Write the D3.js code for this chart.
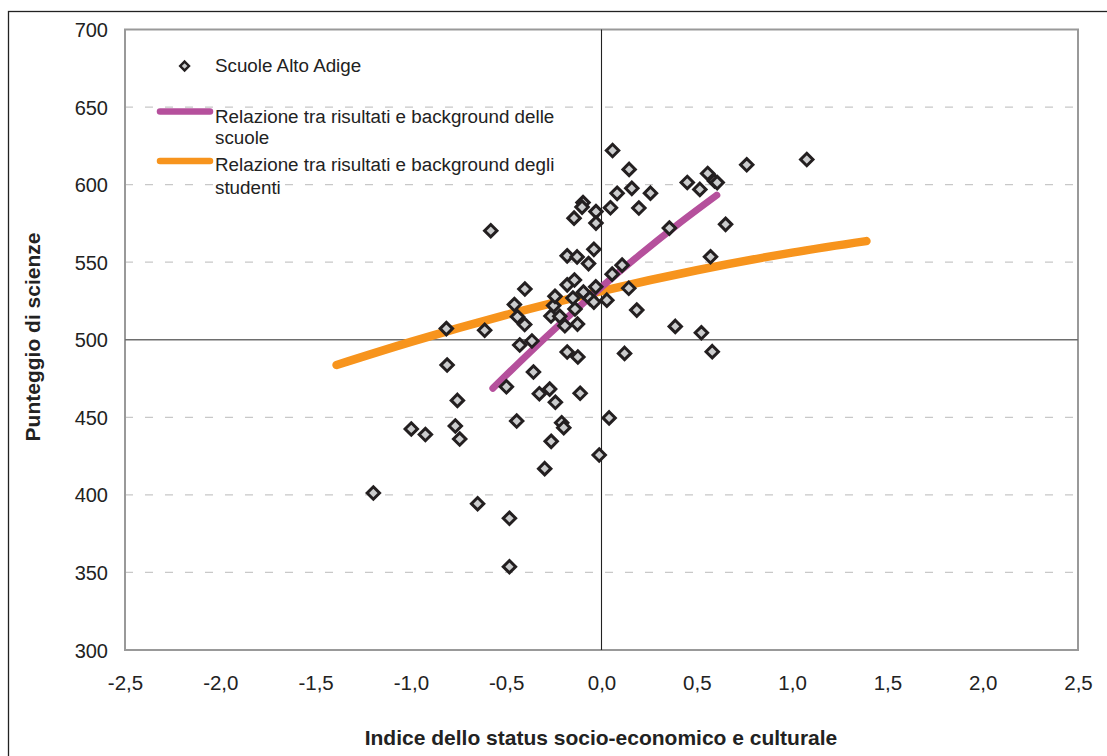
<!DOCTYPE html>
<html>
<head>
<meta charset="utf-8">
<script src="https://cdn.jsdelivr.net/npm/d3@7"></script>
<style>
  html, body { margin: 0; padding: 0; background: #fff; }
  svg { display: block; font-family: "Liberation Sans", Arial, sans-serif; }
</style>
</head>
<body>
<svg id="chart" width="1107" height="756"></svg>
<script>
// School-level scores: socio-economic index (ESCS) vs science score
const schoolEscs = [
  -1.197, -0.998, -0.924, -0.814, -0.810, -0.756, -0.767, -0.744, -0.650, -0.613,
  -0.581, -0.499, -0.483, -0.483, -0.457, -0.445, -0.441, -0.429, -0.402, -0.403,
  -0.365, -0.357, -0.326, -0.298, -0.272, -0.264, -0.265, -0.251, -0.244, -0.242,
  -0.219, -0.209, -0.198, -0.192, -0.180, -0.180, -0.180, -0.150, -0.144, -0.142,
  -0.139, -0.128, -0.126, -0.124, -0.112, -0.097, -0.102, -0.095, -0.068, -0.061,
  -0.040, -0.040, -0.029, -0.029, -0.030, -0.012, 0.028, 0.040, 0.047, 0.056,
  0.058, 0.082, 0.108, 0.121, 0.143, 0.145, 0.159, 0.185, 0.196, 0.257,
  0.356, 0.387, 0.450, 0.516, 0.524, 0.557, 0.593, 0.607, 0.572, 0.581,
  0.651, 0.762, 1.077
];
const schoolScience = [
  401.2, 442.5, 438.9, 507.2, 483.7, 460.9, 444.4, 436.0, 394.3, 506.1,
  570.3, 469.7, 384.9, 353.7, 522.7, 447.6, 514.8, 496.6, 532.7, 509.8,
  499.2, 479.2, 465.2, 416.9, 468.2, 434.5, 515.3, 522.0, 528.0, 459.7,
  515.1, 446.5, 443.3, 509.0, 554.1, 535.4, 492.1, 526.9, 578.4, 538.5,
  519.8, 553.4, 510.1, 488.9, 465.5, 588.4, 585.5, 530.7, 549.1, 526.7,
  558.3, 524.3, 582.6, 575.2, 534.1, 425.7, 525.5, 449.6, 585.1, 542.3,
  622.0, 594.4, 548.1, 491.2, 533.2, 609.8, 597.6, 519.1, 584.9, 594.5,
  572.0, 508.6, 601.4, 596.9, 504.5, 607.2, 602.4, 601.3, 553.5, 492.3,
  574.4, 612.8, 616.2
];

// Between-school relationship (gradient of school means)
const schoolLineX = [-0.57, -0.40, -0.20, 0.00, 0.20, 0.40, 0.605];
const schoolLineY = [468.7, 489.1, 512.1, 534.0, 554.7, 574.3, 593.2];

// Student-level relationship
const studentLineX = [-1.39, -1.00, -0.50, 0.00, 0.50, 1.00, 1.39];
const studentLineY = [483.7, 498.6, 516.0, 531.4, 544.8, 556.2, 563.6];

const xTicks = [-2.5, -2.0, -1.5, -1.0, -0.5, 0.0, 0.5, 1.0, 1.5, 2.0, 2.5];
const yTicks = [300, 350, 400, 450, 500, 550, 600, 650, 700];

const legendLabels = [
  ["Scuole Alto Adige"],
  ["Relazione tra risultati e background delle", "scuole"],
  ["Relazione tra risultati e background degli", "studenti"]
];
const xTitle = "Indice dello status socio-economico e culturale";
const yTitle = "Punteggio di scienze";

const COL_SCHOOL = "#b5509c";
const COL_STUDENT = "#f7941d";

const svg = d3.select("#chart");
const plotL = 125, plotR = 1078, plotT = 29.5, plotB = 650;

const x = d3.scaleLinear().domain([-2.5, 2.5]).range([plotL, plotR]);
const y = d3.scaleLinear().domain([300, 700]).range([plotB, plotT]);

// outer chart-area border
svg.append("rect")
  .attr("x", 8.5).attr("y", 11.5)
  .attr("width", 1120).attr("height", 800)
  .attr("fill", "none").attr("stroke", "#222").attr("stroke-width", 1.3);

// dashed horizontal gridlines
svg.append("g")
  .selectAll("line")
  .data(yTicks.filter(v => v !== 300 && v !== 700 && v !== 500))
  .join("line")
  .attr("x1", plotL).attr("x2", plotR)
  .attr("y1", d => y(d)).attr("y2", d => y(d))
  .attr("stroke", "#c8c8c8").attr("stroke-width", 1.2)
  .attr("stroke-dasharray", "8,12");

// plot frame
svg.append("rect")
  .attr("x", plotL).attr("y", plotT)
  .attr("width", plotR - plotL).attr("height", plotB - plotT)
  .attr("fill", "none").attr("stroke", "#999").attr("stroke-width", 2);

// cross lines at score 500 and index 0
svg.append("line")
  .attr("x1", plotL).attr("x2", plotR)
  .attr("y1", y(500)).attr("y2", y(500))
  .attr("stroke", "#6e6e6e").attr("stroke-width", 1.4);
svg.append("line")
  .attr("x1", x(0)).attr("x2", x(0))
  .attr("y1", plotT).attr("y2", plotB)
  .attr("stroke", "#222").attr("stroke-width", 1.1);

// axes (labels only, comma decimal)
const fmtX = d => d3.format(".1f")(d).replace(".", ",").replace("−", "-");
const xAxis = svg.append("g")
  .attr("transform", `translate(0,${plotB})`)
  .call(d3.axisBottom(x).tickValues(xTicks).tickFormat(fmtX).tickSize(0).tickPadding(0));
xAxis.select(".domain").remove();
xAxis.selectAll("text")
  .attr("dy", null).attr("y", 39.5)
  .attr("font-family", "Liberation Sans, Arial, sans-serif")
  .attr("font-size", 20.5).attr("fill", "#222");

const yAxis = svg.append("g")
  .attr("transform", `translate(${plotL},0)`)
  .call(d3.axisLeft(y).tickValues(yTicks).tickFormat(d3.format("d")).tickSize(0).tickPadding(0));
yAxis.select(".domain").remove();
yAxis.selectAll("text")
  .attr("x", -17).attr("dy", "0.35em")
  .attr("font-family", "Liberation Sans, Arial, sans-serif")
  .attr("font-size", 20).attr("fill", "#222");

// axis titles
svg.append("text")
  .attr("x", 601).attr("y", 745)
  .attr("text-anchor", "middle")
  .attr("font-size", 21).attr("font-weight", "bold").attr("fill", "#222")
  .text(xTitle);
svg.append("text")
  .attr("transform", `translate(40,337) rotate(-90)`)
  .attr("text-anchor", "middle")
  .attr("font-size", 21).attr("font-weight", "bold").attr("fill", "#222")
  .text(yTitle);

// relationship curves
const line = d3.line().x(d => x(d[0])).y(d => y(d[1])).curve(d3.curveMonotoneX);
svg.append("path")
  .datum(studentLineX.map((v, i) => [v, studentLineY[i]]))
  .attr("d", line)
  .attr("fill", "none").attr("stroke", COL_STUDENT)
  .attr("stroke-width", 8.5).attr("stroke-linecap", "round");

svg.append("path")
  .datum(schoolLineX.map((v, i) => [v, schoolLineY[i]]))
  .attr("d", line)
  .attr("fill", "none").attr("stroke", COL_SCHOOL)
  .attr("stroke-width", 7).attr("stroke-linecap", "round");

// school markers
const diamond = d3.symbol().type(d3.symbolDiamond2).size(98);
svg.append("g")
  .selectAll("path")
  .data(schoolEscs.map((v, i) => [v, schoolScience[i]]))
  .join("path")
  .attr("d", diamond)
  .attr("transform", d => `translate(${x(d[0])},${y(d[1])})`)
  .attr("fill", "#cbcccd").attr("stroke", "#231f20").attr("stroke-width", 3);

// legend
const lg = svg.append("g").attr("font-size", 18.8).attr("fill", "#222");
lg.append("path")
  .attr("d", d3.symbol().type(d3.symbolDiamond2).size(50))
  .attr("transform", "translate(184.6,66)")
  .attr("fill", "#cbcccd").attr("stroke", "#231f20").attr("stroke-width", 2.4);
lg.append("text").attr("x", 215).attr("y", 72).text(legendLabels[0][0]);

lg.append("line")
  .attr("x1", 160).attr("x2", 210).attr("y1", 111.5).attr("y2", 111.5)
  .attr("stroke", COL_SCHOOL).attr("stroke-width", 6.5).attr("stroke-linecap", "round");
legendLabels[1].forEach((t, i) =>
  lg.append("text").attr("x", 215).attr("y", 122.5 + i * 21.5).text(t));

lg.append("line")
  .attr("x1", 160).attr("x2", 210).attr("y1", 161).attr("y2", 161)
  .attr("stroke", COL_STUDENT).attr("stroke-width", 6.5).attr("stroke-linecap", "round");
legendLabels[2].forEach((t, i) =>
  lg.append("text").attr("x", 215).attr("y", 171 + i * 22.5).text(t));
</script>
</body>
</html>
